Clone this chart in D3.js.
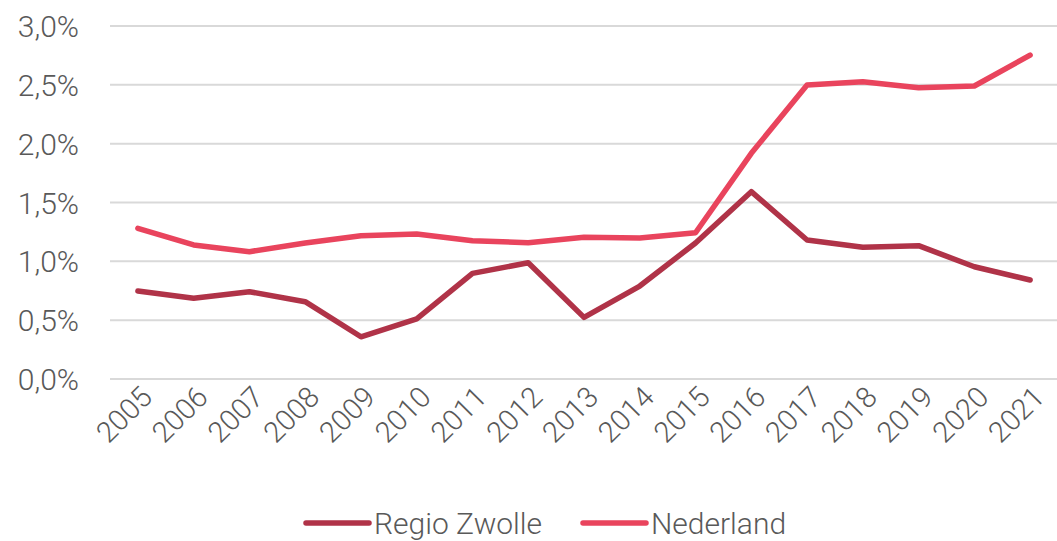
<!DOCTYPE html>
<html>
<head>
<meta charset="utf-8">
<script src="https://cdn.jsdelivr.net/npm/d3@7/dist/d3.min.js"></script>
<style>
  html, body { margin: 0; padding: 0; background: #fff; }
  svg { display: block; }
  text { font-family: Roboto, "Noto Sans", sans-serif; font-weight: 300; fill: #595959; }
</style>
</head>
<body>
<svg id="chart" width="1057" height="541"></svg>
<script>
const years = ["2005","2006","2007","2008","2009","2010","2011","2012","2013","2014","2015","2016","2017","2018","2019","2020","2021"];
const regioZwolle = [0.748,0.686,0.742,0.657,0.359,0.510,0.898,0.988,0.524,0.790,1.156,1.592,1.181,1.119,1.133,0.954,0.841];
const nederland = [1.281,1.139,1.082,1.156,1.218,1.232,1.175,1.158,1.204,1.198,1.243,1.918,2.499,2.527,2.476,2.490,2.753];
const yTicks = [0,0.5,1.0,1.5,2.0,2.5,3.0];
const seriesNames = ["Regio Zwolle","Nederland"];
const seriesColors = ["#b03348","#e9445d"];

const svg = d3.select("#chart");
const x = d3.scaleBand().domain(years).range([110, 1058]);
const y = d3.scaleLinear().domain([0, 3]).range([379, 26]);
const fmt = v => d3.format(".1f")(v).replace(".", ",") + "%";

// gridlines
svg.append("g").selectAll("line").data(yTicks).join("line")
  .attr("x1", 110).attr("x2", 1057)
  .attr("y1", d => y(d)).attr("y2", d => y(d))
  .attr("stroke", "#d9d9d9").attr("stroke-width", 2);

// y axis labels
const yAxis = d3.axisLeft(y).tickValues(yTicks).tickFormat(fmt).tickSize(0).tickPadding(0);
const gy = svg.append("g").attr("transform", "translate(79,0)").call(yAxis);
gy.select(".domain").remove();
gy.selectAll("text").attr("font-size", 30).attr("dy", "0.35em")
  .style("font-family", "Roboto, sans-serif").attr("fill", "#595959");

// x axis labels
const xAxis = d3.axisBottom(x).tickSize(0).tickPadding(0);
const gx = svg.append("g").attr("transform", "translate(0,379)").call(xAxis);
gx.select(".domain").remove();
gx.selectAll("text")
  .attr("font-size", 29)
  .attr("text-anchor", "end")
  .attr("dy", 0)
  .attr("transform", "translate(16,20) rotate(-45)")
  .attr("fill", "#595959");

// lines
const line = d3.line().x((d, i) => x(years[i]) + x.bandwidth() / 2).y(d => y(d));
[regioZwolle, nederland].forEach((s, k) => {
  svg.append("path").datum(s)
    .attr("fill", "none")
    .attr("stroke", seriesColors[k])
    .attr("stroke-width", 5.5)
    .attr("stroke-linejoin", "round")
    .attr("stroke-linecap", "round")
    .attr("d", line);
});

// legend
const legX = [306, 583];
seriesNames.forEach((n, k) => {
  svg.append("line").attr("x1", legX[k]).attr("x2", legX[k] + 63)
    .attr("y1", 523).attr("y2", 523)
    .attr("stroke", seriesColors[k]).attr("stroke-width", 5.5).attr("stroke-linecap", "round");
  svg.append("text").attr("x", legX[k] + 68).attr("y", 523).attr("dy", "0.35em")
    .attr("font-size", 30).text(n);
});
</script>
</body>
</html>
